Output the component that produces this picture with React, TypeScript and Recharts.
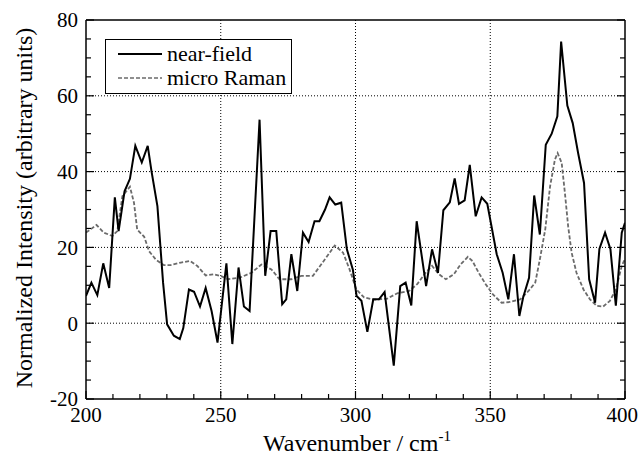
import { LineChart, Line, XAxis, YAxis, CartesianGrid, Label } from "recharts";

// wavenumber (cm-1) / normalized intensity
const nearFieldX = [
  200, 202, 204.2, 206.4, 208.6, 210.7, 212.1, 214.3, 216.3, 218.3, 220.7, 222.9, 224.3, 226.5, 228.6,
  230.1, 232.6, 234.8, 236.1, 238.2, 240.1, 242.3, 244.4, 246.6, 248.8, 252.1, 254.3, 256.6, 258.6,
  260.7, 264.4, 266.5, 268.5, 270.6, 272.8, 274.3, 276.2, 278.4, 280.5, 282.6, 284.8, 286.6, 288.7, 290.4,
  292.5, 294.7, 296.8, 299, 300.4, 302.2, 304.4, 306.6, 308.7, 310.8, 314.2, 316.6, 318.6, 320.7,
  322.7, 326.2, 328.4, 330.6, 332.6, 335, 336.8, 338.4, 340.5, 342.4, 344.6, 346.8, 348.9, 352.4,
  354.6, 356.7, 358.8, 360.8, 362.2, 364.4, 366.3, 368.4, 370.6, 372.8, 374.9, 376.3, 378.6, 380.6,
  382.6, 384.8, 386.7, 388.9, 390.5, 392.6, 394.6, 396.6, 398.8, 400,
];
const nearFieldY = [
  7.2, 10.7, 7.4, 15.8, 9.3, 33.2, 24.3, 34.8, 38.1, 46.8, 42.4, 46.8, 40.1, 30.9, 10.7,
  -0.3, -3.3, -4.2, -1.3, 8.9, 8.3, 4.4, 9.3, 3.2, -5.1, 15.8, -5.5, 14.7, 4.4,
  3.2, 53.7, 12.5, 24.3, 24.3, 5, 6.3, 18.2, 8.5, 23.9, 21.4, 26.9, 26.9, 30, 33.2,
  31.3, 31.8, 19.5, 14.2, 7.2, 5.9, -2.3, 6.3, 6.3, 8.2, -11.2, 9.8, 10.7, 4.7,
  26.9, 9.8, 19.5, 13.3, 29.8, 31.9, 38.2, 31.5, 32.4, 41.8, 28.2, 33.2, 31.5, 18.2,
  13.3, 6.3, 18.2, 1.9, 6.8, 12, 33.7, 23.4, 47.1, 50, 54.6, 74.3, 57.4, 52.8,
  44.9, 37, 11.6, 5.4, 19.6, 23.9, 19.5, 4.6, 23.9, 26.5,
];

const ramanX = [
  200, 203.9, 206.6, 209.8, 211.6, 213.5, 216.3, 217.8, 219, 221.6, 223.4, 225.9, 228.9, 231.4,
  235.2, 238.6, 241.3, 244.4, 247.4, 250.6, 252.7, 257, 261.4, 265.1, 268.8, 271.8, 276.2, 279.9,
  284.2, 288.6, 292.3, 295.4, 297.8, 300.3, 303.2, 306.9, 311.8, 315.5, 319.9, 322.9, 326, 328.4, 331,
  333.5, 336.5, 339, 341.7, 343.4, 345.8, 348.3, 351.1, 354.2, 357.4, 361.1, 364.2, 366.7, 368.4,
  370.4, 372.2, 374, 375, 376.5, 377.7, 378.9, 380.2, 382, 384.6, 387, 389.5, 391.9, 394.4,
  396.6, 398.8, 400,
];
const ramanY = [
  23.9, 25.9, 23.9, 23, 24.3, 33.5, 36, 31.8, 24.7, 22.8, 19, 16.8, 15.3, 15.3,
  16, 16.4, 15.1, 12.6, 12.9, 12.3, 11.6, 12, 13.3, 15.5, 14.2, 11.6, 11.6, 12.5,
  12.5, 16.8, 20.5, 18.6, 14.2, 8.9, 6.8, 6.2, 6.5, 7.9, 8.5, 10.3, 13.3, 15.1, 12.9,
  11.6, 12.9, 15.5, 17.5, 16.4, 13.2, 10.3, 7.5, 5.4, 5.6, 6.3, 8.5, 10.7, 16.8,
  24.7, 36.1, 43.2, 44.9, 42.3, 34.4, 25.6, 18.6, 13.3, 8.9, 6.3, 4.6, 4.4, 5.9,
  8.9, 15.1, 17,
];

const xTicks = [
  200, 210, 220, 230, 240, 250, 260, 270, 280, 290, 300, 310, 320, 330, 340, 350, 360, 370, 380,
  390, 400,
];
const yTicks = [
  -20, -15, -10, -5, 0, 5, 10, 15, 20, 25, 30, 35, 40, 45, 50, 55, 60, 65, 70, 75, 80,
];
const xGrid = [250, 300, 350];
const yGrid = [0, 20, 40, 60];

const nearField = nearFieldX.map((x, i) => ({ x, y: nearFieldY[i] }));
const raman = ramanX.map((x, i) => ({ x, y: ramanY[i] }));

const FONT = "'Liberation Serif', 'Times New Roman', serif";
const RAMAN_COLOR = "#6b6b6b";
const RAMAN_DASH = "4 2";

const isMajorX = (v: number) => v % 50 === 0;
const isMajorY = (v: number) => v % 20 === 0;

function BottomTick({ x, y, payload }: any) {
  const major = isMajorX(payload.value);
  // the last label is pulled in so it stays inside the page, as in the original
  const last = payload.value === 400;
  return (
    <g>
      <line x1={x} y1={y} x2={x} y2={y - (major ? 8 : 5)} stroke="#000" strokeWidth={1.2} />
      {major && (
        <text
          x={last ? x + 13 : x}
          y={y + 23}
          textAnchor={last ? "end" : "middle"}
          fontFamily={FONT}
          fontSize={21}
          fill="#000"
        >
          {payload.value}
        </text>
      )}
    </g>
  );
}

function TopTick({ x, y, payload }: any) {
  const major = isMajorX(payload.value);
  return <line x1={x} y1={y} x2={x} y2={y + (major ? 8 : 5)} stroke="#000" strokeWidth={1.2} />;
}

function LeftTick({ x, y, payload }: any) {
  const major = isMajorY(payload.value);
  return (
    <g>
      <line x1={x} y1={y} x2={x + (major ? 8 : 5)} y2={y} stroke="#000" strokeWidth={1.2} />
      {major && (
        <text x={x - 8} y={y} dy="0.35em" textAnchor="end" fontFamily={FONT} fontSize={21} fill="#000">
          {payload.value}
        </text>
      )}
    </g>
  );
}

function RightTick({ x, y, payload }: any) {
  const major = isMajorY(payload.value);
  return <line x1={x} y1={y} x2={x - (major ? 8 : 5)} y2={y} stroke="#000" strokeWidth={1.2} />;
}

function ChartLegend() {
  const row = { display: "flex", alignItems: "center", height: 24, lineHeight: "24px" };
  return (
    <div
      style={{
        position: "absolute",
        left: 105,
        top: 39,
        width: 187,
        height: 55,
        border: "1.5px solid #000",
        background: "#fff",
        fontFamily: FONT,
        fontSize: 22,
        padding: "2px 0 0 12px",
        boxSizing: "border-box",
        whiteSpace: "nowrap",
      }}
    >
      <div style={row}>
        <svg width={44} height={10} style={{ marginRight: 5 }}>
          <line x1={0} y1={5} x2={44} y2={5} stroke="#000" strokeWidth={2} />
        </svg>
        near-field
      </div>
      <div style={row}>
        <svg width={44} height={10} style={{ marginRight: 5 }}>
          <line x1={0} y1={5} x2={44} y2={5} stroke={RAMAN_COLOR} strokeWidth={1.5} strokeDasharray={RAMAN_DASH} />
        </svg>
        micro Raman
      </div>
    </div>
  );
}

export default function App() {
  return (
    <div style={{ position: "absolute", left: 0, top: 0, width: 640, height: 460, background: "#fff" }}>
      <LineChart width={640} height={460} margin={{ top: 0, right: 0, bottom: 0, left: 0 }}>
        <CartesianGrid
          horizontal
          vertical
          horizontalValues={yGrid}
          verticalValues={xGrid}
          stroke="#000"
          strokeDasharray="1 2"
          strokeWidth={1}
        />
        <XAxis
          dataKey="x"
          type="number"
          domain={[200, 400]}
          ticks={xTicks}
          interval={0}
          allowDataOverflow
          height={61}
          tickSize={0}
          tickMargin={0}
          tickLine={false}
          axisLine={{ stroke: "#000", strokeWidth: 1.5 }}
          tick={<BottomTick />}
        >
          <Label
            content={() => (
              <text x={357} y={451} textAnchor="middle" fontFamily={FONT} fontSize={24} fill="#000">
                Wavenumber / cm
                <tspan dy={-10} fontSize={15}>
                  -1
                </tspan>
              </text>
            )}
          />
        </XAxis>
        <XAxis
          xAxisId="top"
          orientation="top"
          type="number"
          domain={[200, 400]}
          ticks={xTicks}
          interval={0}
          allowDataOverflow
          height={20}
          tickSize={0}
          tickMargin={0}
          tickLine={false}
          axisLine={{ stroke: "#000", strokeWidth: 1.5 }}
          tick={<TopTick />}
        />
        <YAxis
          type="number"
          domain={[-20, 80]}
          ticks={yTicks}
          interval={0}
          allowDataOverflow
          width={86}
          tickSize={0}
          tickMargin={0}
          tickLine={false}
          axisLine={{ stroke: "#000", strokeWidth: 1.5 }}
          tick={<LeftTick />}
        >
          <Label
            content={() => (
              <text
                x={0}
                y={0}
                transform="translate(32, 208) rotate(-90)"
                textAnchor="middle"
                fontFamily={FONT}
                fontSize={24}
                fill="#000"
              >
                Normalized Intensity (arbitrary units)
              </text>
            )}
          />
        </YAxis>
        <YAxis
          yAxisId="right"
          orientation="right"
          type="number"
          domain={[-20, 80]}
          ticks={yTicks}
          interval={0}
          allowDataOverflow
          width={15}
          tickSize={0}
          tickMargin={0}
          tickLine={false}
          axisLine={{ stroke: "#000", strokeWidth: 1.5 }}
          tick={<RightTick />}
        />
        <Line
          data={raman}
          dataKey="y"
          type="linear"
          stroke={RAMAN_COLOR}
          strokeWidth={1.8}
          strokeDasharray={RAMAN_DASH}
          dot={false}
          activeDot={false}
          isAnimationActive={false}
        />
        <Line
          data={nearField}
          dataKey="y"
          type="linear"
          stroke="#000"
          strokeWidth={2}
          dot={false}
          activeDot={false}
          isAnimationActive={false}
        />
      </LineChart>
      <ChartLegend />
    </div>
  );
}
